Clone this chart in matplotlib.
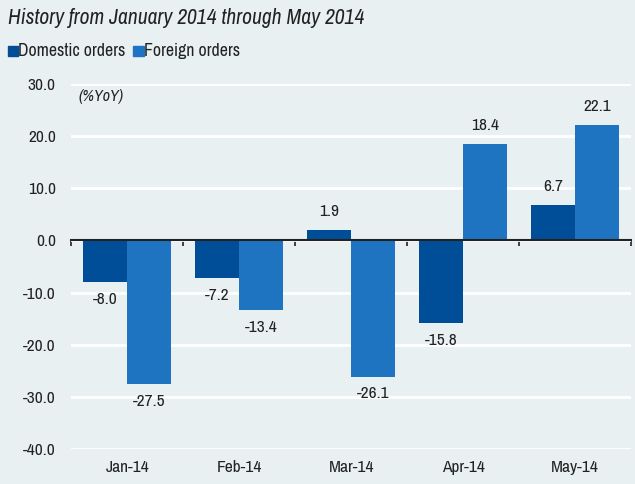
import numpy as np
import matplotlib.pyplot as plt

months = ['Jan-14', 'Feb-14', 'Mar-14', 'Apr-14', 'May-14']
domestic = [-8.0, -7.2, 1.9, -15.8, 6.7]
foreign = [-27.5, -13.4, -26.1, 18.4, 22.1]
series_names = ['Domestic orders', 'Foreign orders']
yticks = [30, 20, 10, 0, -10, -20, -30, -40]

bg = '#e8f0f2'
c_dom = '#004e98'
c_for = '#1f74c2'
txt = '#222222'

plt.rcParams['font.family'] = ['Archivo Narrow', 'DejaVu Sans']
plt.rcParams['font.stretch'] = 'condensed'

fig = plt.figure(figsize=(6.35, 4.84), dpi=100, facecolor=bg)
ax = fig.add_axes([0.112, 0.072, 0.882, 0.755], facecolor=bg)

x = np.arange(len(months))
w = 0.395
b1 = ax.bar(x - w / 2, domestic, w, color=c_dom, zorder=3)
b2 = ax.bar(x + w / 2, foreign, w, color=c_for, zorder=3)

for bars, vals in ((b1, domestic), (b2, foreign)):
    for r, v in zip(bars, vals):
        off = 8 if v >= 0 else -7
        ax.annotate(f'{v:.1f}', (r.get_x() + r.get_width() / 2, v),
                    xytext=(0, off), textcoords='offset points',
                    ha='center', va='bottom' if v >= 0 else 'top',
                    fontsize=12.5, color=txt)

ax.set_xlim(-0.5, len(months) - 0.5)
ax.set_ylim(-40, 30)
ax.set_yticks(yticks)
ax.set_yticklabels([f'{t:.1f}' for t in yticks], fontsize=12.5, color=txt)
ax.tick_params(axis='y', length=0, pad=11)
ax.yaxis.grid(True, color='white', linewidth=2, zorder=0)
ax.set_axisbelow(True)

for s in ['top', 'right', 'left']:
    ax.spines[s].set_visible(False)
ax.spines['bottom'].set_position(('data', 0))
ax.spines['bottom'].set_color('#222222')
ax.spines['bottom'].set_linewidth(1.5)
ax.spines['bottom'].set_zorder(4)
ax.set_xticks([])
ax.set_xticks(np.arange(len(months) + 1) - 0.5, minor=True)
ax.tick_params(axis='x', which='minor', length=4, width=1.2, color='#222222', direction='out')

for i, m in enumerate(months):
    ax.text(i, -0.03, m, transform=ax.get_xaxis_transform(), ha='center', va='top',
            fontsize=12.5, color=txt)

ax.text(0.013, 0.985, '(%YoY)', transform=ax.transAxes, ha='left', va='top',
        fontsize=11.5, style='italic', color=txt,
        bbox=dict(facecolor=bg, edgecolor='none', pad=2), zorder=5)

fig.text(0.012, 0.962, 'History from January 2014 through May 2014', ha='left', va='center',
         fontsize=15.5, style='italic', color=txt)

lx = 0.012
for name, col in zip(series_names, [c_dom, c_for]):
    fig.patches.append(plt.Rectangle((lx, 0.884), 0.016, 0.021, transform=fig.transFigure,
                                     color=col, figure=fig))
    t = fig.text(lx + 0.017, 0.894, name, ha='left', va='center', fontsize=12.8, color=txt)
    fig.canvas.draw()
    bb = t.get_window_extent().transformed(fig.transFigure.inverted())
    lx = bb.x1 + 0.012

fig.savefig('out.png', dpi=100, facecolor=bg)
